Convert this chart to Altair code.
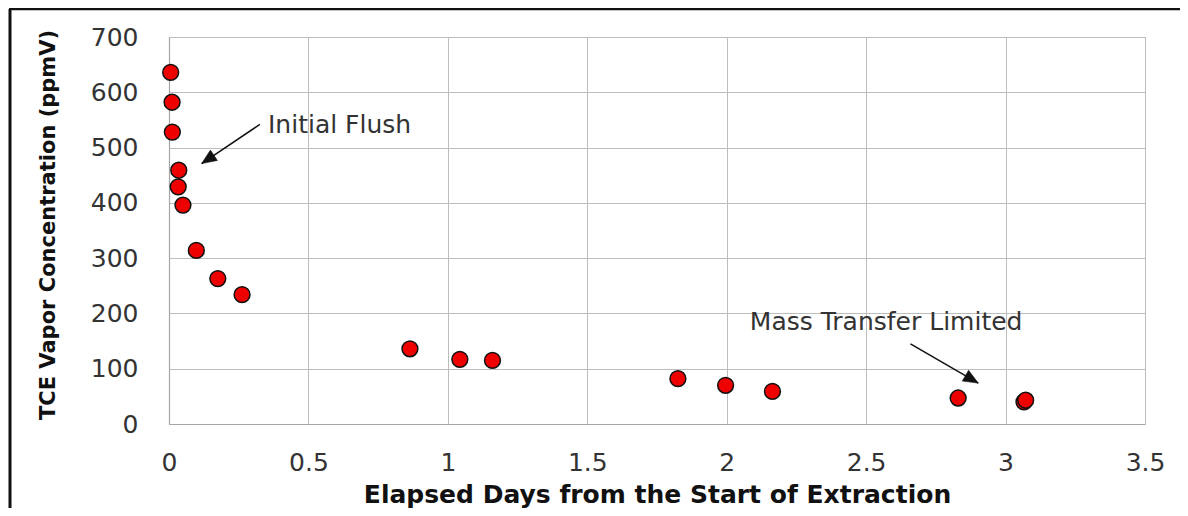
import math
import altair as alt
import pandas as pd

# Data
days = [0.006, 0.011, 0.012, 0.033, 0.035, 0.05, 0.098, 0.175, 0.262,
        0.864, 1.043, 1.16, 1.825, 1.996, 2.164, 2.83, 3.066, 3.072]
tce = [636, 582, 528, 429, 459, 396, 314, 263, 234,
       136, 117, 115, 82, 70, 59, 47, 40, 43]

x_ticks = [0, 0.5, 1, 1.5, 2, 2.5, 3, 3.5]
y_ticks = [0, 100, 200, 300, 400, 500, 600, 700]

ann_text = ["Initial Flush", "Mass Transfer Limited"]
ann_x = [0.355, 2.083]
ann_y = [541, 184]

arrow_x1 = [0.326, 2.659]
arrow_y1 = [542, 145]
arrow_x2 = [0.117, 2.902]
arrow_y2 = [471, 74]

W, H = 976, 387
XMAX, YMAX = 3.5, 700
FONT = "DejaVu Sans"

df = pd.DataFrame({"days": days, "tce": tce})
ann = pd.DataFrame({"text": ann_text, "x": ann_x, "y": ann_y})

# arrow head orientation from screen-space direction
angles = []
for x1, y1, x2, y2 in zip(arrow_x1, arrow_y1, arrow_x2, arrow_y2):
    dx = (x2 - x1) * W / XMAX
    dy = -(y2 - y1) * H / YMAX
    angles.append((math.degrees(math.atan2(dx, -dy))) % 360)
arr = pd.DataFrame({"x1": arrow_x1, "y1": arrow_y1, "x2": arrow_x2,
                    "y2": arrow_y2, "angle": angles})

xscale = alt.Scale(domain=[0, XMAX], nice=False, zero=False)
yscale = alt.Scale(domain=[0, YMAX], nice=False)

points = alt.Chart(df).mark_point(
    filled=True, fill="#ee0000", stroke="#111111", strokeWidth=1.5,
    size=250, opacity=1, shape="circle"
).encode(
    x=alt.X("days:Q", scale=xscale,
            axis=alt.Axis(values=x_ticks, format="~g",
                          title="Elapsed Days from the Start of Extraction",
                          titleY=78, titleBaseline="alphabetic",
                          titleFontSize=25, titleFontWeight="bold",
                          titleFont=FONT, titleColor="#111111",
                          labelFontSize=25, labelFont=FONT,
                          labelColor="#333333", labelPadding=26,
                          labelFlush=False, labelOverlap=False,
                          ticks=False, grid=True)),
    y=alt.Y("tce:Q", scale=yscale,
            axis=alt.Axis(values=y_ticks, format="d",
                          title="TCE Vapor Concentration (ppmV)",
                          titleX=-121, titleY=H / 2 - 6, titleAngle=270,
                          titleAlign="center", titleBaseline="middle",
                          titleFontSize=21, titleFontWeight="bold",
                          titleFont=FONT, titleColor="#111111",
                          labelFontSize=25, labelFont=FONT,
                          labelColor="#333333", labelPadding=31,
                          labelFlush=False, labelOverlap=False,
                          ticks=False, grid=True)),
)

lines = alt.Chart(arr).mark_rule(color="#111111", strokeWidth=1.5).encode(
    x=alt.X("x1:Q", scale=xscale), y=alt.Y("y1:Q", scale=yscale),
    x2="x2:Q", y2="y2:Q",
)

heads = alt.Chart(arr).mark_point(
    filled=True, fill="#111111", stroke="#111111", strokeWidth=0.5,
    opacity=1, shape="M0,0L0.55,1.3L-0.55,1.3Z", size=520
).encode(
    x=alt.X("x2:Q", scale=xscale), y=alt.Y("y2:Q", scale=yscale),
    angle=alt.Angle("angle:Q", scale=None),
)

labels = alt.Chart(ann).mark_text(
    align="left", baseline="middle", font=FONT, fontSize=25, color="#333333"
).encode(
    x=alt.X("x:Q", scale=xscale), y=alt.Y("y:Q", scale=yscale),
    text="text:N",
)

frame_data = alt.Data(values=[{"k": 1}])
frame_left = alt.Chart(frame_data).mark_rule(color="#111111", strokeWidth=3).encode(
    x=alt.value(-159), y=alt.value(-28), y2=alt.value(H + 90))
frame_top = alt.Chart(frame_data).mark_rule(color="#111111", strokeWidth=2.5).encode(
    x=alt.value(-160), x2=alt.value(W + 40), y=alt.value(-28))

chart = alt.layer(lines, heads, labels, points, frame_left, frame_top).properties(
    width=W, height=H,
    autosize=alt.AutoSizeParams(type="none"),
    padding={"left": 161, "top": 29, "right": 35, "bottom": 84},
    background="white",
).configure_axis(
    gridColor="#bdbdbd", gridWidth=1, domainColor="#a6a6a6", domainWidth=1.2,
).configure_view(stroke="#bdbdbd", strokeWidth=1)

chart.save("out.html", embed_options={"renderer": "svg", "actions": False})
